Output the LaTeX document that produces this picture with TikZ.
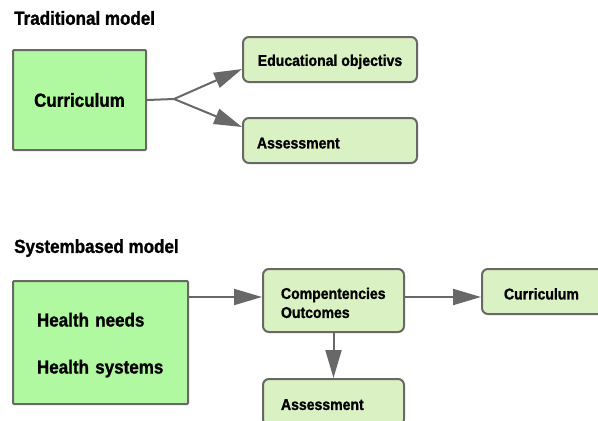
\documentclass[tikz,border=0pt]{standalone}
\usepackage{fontspec}
\setmainfont{Liberation Sans}[FakeStretch=0.9, BoldFeatures={FakeBold=1.2}]
\usetikzlibrary{arrows.meta}
\definecolor{edgegray}{HTML}{686868}
\definecolor{biggreen}{HTML}{B0F9A1}
\definecolor{smallgreen}{HTML}{DAF2C3}
\begin{document}
\begin{tikzpicture}
  [x=1pt, y=-1pt,
   title/.style={anchor=west, inner sep=0pt,
      font=\bfseries\fontsize{18.9}{22}\selectfont},
   bigbox/.style={draw=edgegray, line width=2pt, fill=biggreen,
      rounded corners=1pt, anchor=north west,
      font=\bfseries\fontsize{18.9}{22}\selectfont},
   smallbox/.style={draw=edgegray, line width=2pt, fill=smallgreen,
      rounded corners=6pt, anchor=north west, inner ysep=0pt,
      font=\bfseries\fontsize{15.6}{19}\selectfont,
      execute at begin node={\rule{0pt}{16pt}}},
   conn/.style={draw=edgegray, line width=2pt},
   arr/.style={conn, -{Triangle[length=28pt, width=16pt]}}]
  \useasboundingbox (0,0) rectangle (598,421);

  % traditional model
  \node[title] (tradtitle) at (14,18) {Traditional model};
  \node[bigbox, minimum width=133pt, minimum height=100pt] (curr) at (12,49) {Curriculum};
  \node[smallbox, minimum width=174pt, minimum height=45pt] (educ) at (242,36) {Educational objectivs};
  \node[smallbox, inner xsep=14pt, text width=146pt, align=left,
    minimum height=45pt] (assess) at (242,117) {Assessment};
  \coordinate (fork) at (174,99);
  \draw[conn] (curr.east) -- (fork);
  \draw[arr] (fork) -- ([yshift=-9.5pt]educ.west);
  \draw[arr] (fork) -- ([yshift=13.5pt]assess.west);

  % systembased model
  \node[title] (systitle) at (14,248) {Systembased model};
  \node[bigbox, inner xsep=24pt, text width=127pt, align=left,
    minimum height=123pt] (health) at (12,280)
    {\rule{0pt}{19pt}Health needs\\[25pt]Health systems};
  \node[smallbox, inner xsep=18pt, text width=105pt, align=left,
    minimum height=63pt] (comp) at (262,268) {Compentencies\\Outcomes};
  \node[smallbox, inner xsep=22pt, text width=86pt, align=left,
    minimum height=45pt] (curr2) at (481,268) {Curriculum};
  \node[smallbox, inner xsep=18pt, text width=105pt, align=left,
    minimum height=46pt] (assess2) at (262,378) {Assessment};
  \draw[arr] (health.east |- 0,297) -- (comp.west |- 0,297);
  \draw[arr] (comp.east |- 0,297) -- (curr2.west |- 0,297);
  \draw[arr] (comp.south) -- (assess2.north);
\end{tikzpicture}
\end{document}
